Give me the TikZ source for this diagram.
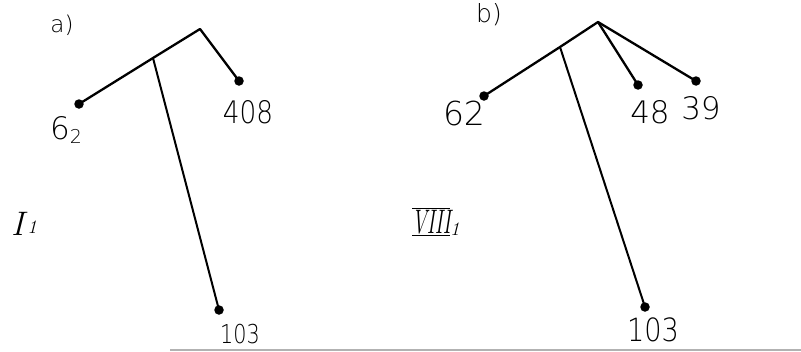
\documentclass[tikz,border=0pt]{standalone}
\usepackage{fontspec}
\newfontfamily\hand{DejaVu Sans ExtraLight}
\newcommand{\fs}[1]{\fontsize{#1}{#1}\selectfont}
\begin{document}
\begin{tikzpicture}[x=1pt,y=-1pt,
  edge/.style={line width=2.3pt,line cap=round,line join=round},
  stem/.style={line width=2pt,line cap=round},
  leaf/.style={circle,fill=black,inner sep=0pt,minimum size=9.5pt},
  lbl/.style={inner sep=0pt,font=\hand\fs{31}},
  roman/.style={inner sep=0pt,font=\fs{34}}]
\useasboundingbox (0,0) rectangle (801,351);
\fill[white] (0,0) rectangle (801,351);
\draw[gray!60,line width=2pt] (170,350) -- (801,350);
% panel a
\coordinate (apexA) at (200,29);
\coordinate (juncA) at (153,58);
\node[leaf] (l62A) at (79,104) {};
\node[leaf] (l408A) at (239,81) {};
\node[leaf] (l103A) at (219,310) {};
\draw[edge] (l62A.center) -- (juncA) -- (apexA) -- (l408A.center);
\draw[stem] (juncA) -- (l103A.center);
\node[lbl,font=\hand\fs{23}] (ta) at (62,25) {a)};
\node[lbl] (t62A) at (66,130) {6\raisebox{-4pt}{\fs{19}2}};
\node[lbl] (t408A) at (248,112) {\scalebox{0.85}[1]{408}};
\node[lbl,font=\hand\fs{26}] (t103A) at (240,334) {\scalebox{0.8}[1]{103}};
\node[roman] (tI) at (24,224) {\textit{I}\raisebox{2pt}{\fs{19}\textit{1}}};
% panel b
\coordinate (apexB) at (598,22);
\coordinate (juncB) at (560,47);
\node[leaf] (l62B) at (484,96) {};
\node[leaf] (l48B) at (638,85) {};
\node[leaf] (l39B) at (696,81) {};
\node[leaf] (l103B) at (645,307) {};
\draw[edge] (l62B.center) -- (juncB) -- (apexB) -- (l48B.center);
\draw[edge] (apexB) -- (l39B.center);
\draw[stem] (juncB) -- (l103B.center);
\node[lbl,font=\hand\fs{25}] (tb) at (489,15) {b)};
\node[lbl,font=\hand\fs{33}] (t62B) at (464,113) {62};
\node[lbl] (t48B) at (650,112) {48};
\node[lbl] (t39B) at (701,108) {39};
\node[lbl,font=\hand\fs{32}] (t103B) at (653,330) {\scalebox{0.85}[1]{103}};
\node[roman] (tVIII) at (436,222) {\scalebox{0.62}[1]{$\overline{\underline{\textit{\kern-1pt VIII\kern-1pt}}}$}\raisebox{-2pt}{\fs{19}\textit{1}}};
\end{tikzpicture}
\end{document}
